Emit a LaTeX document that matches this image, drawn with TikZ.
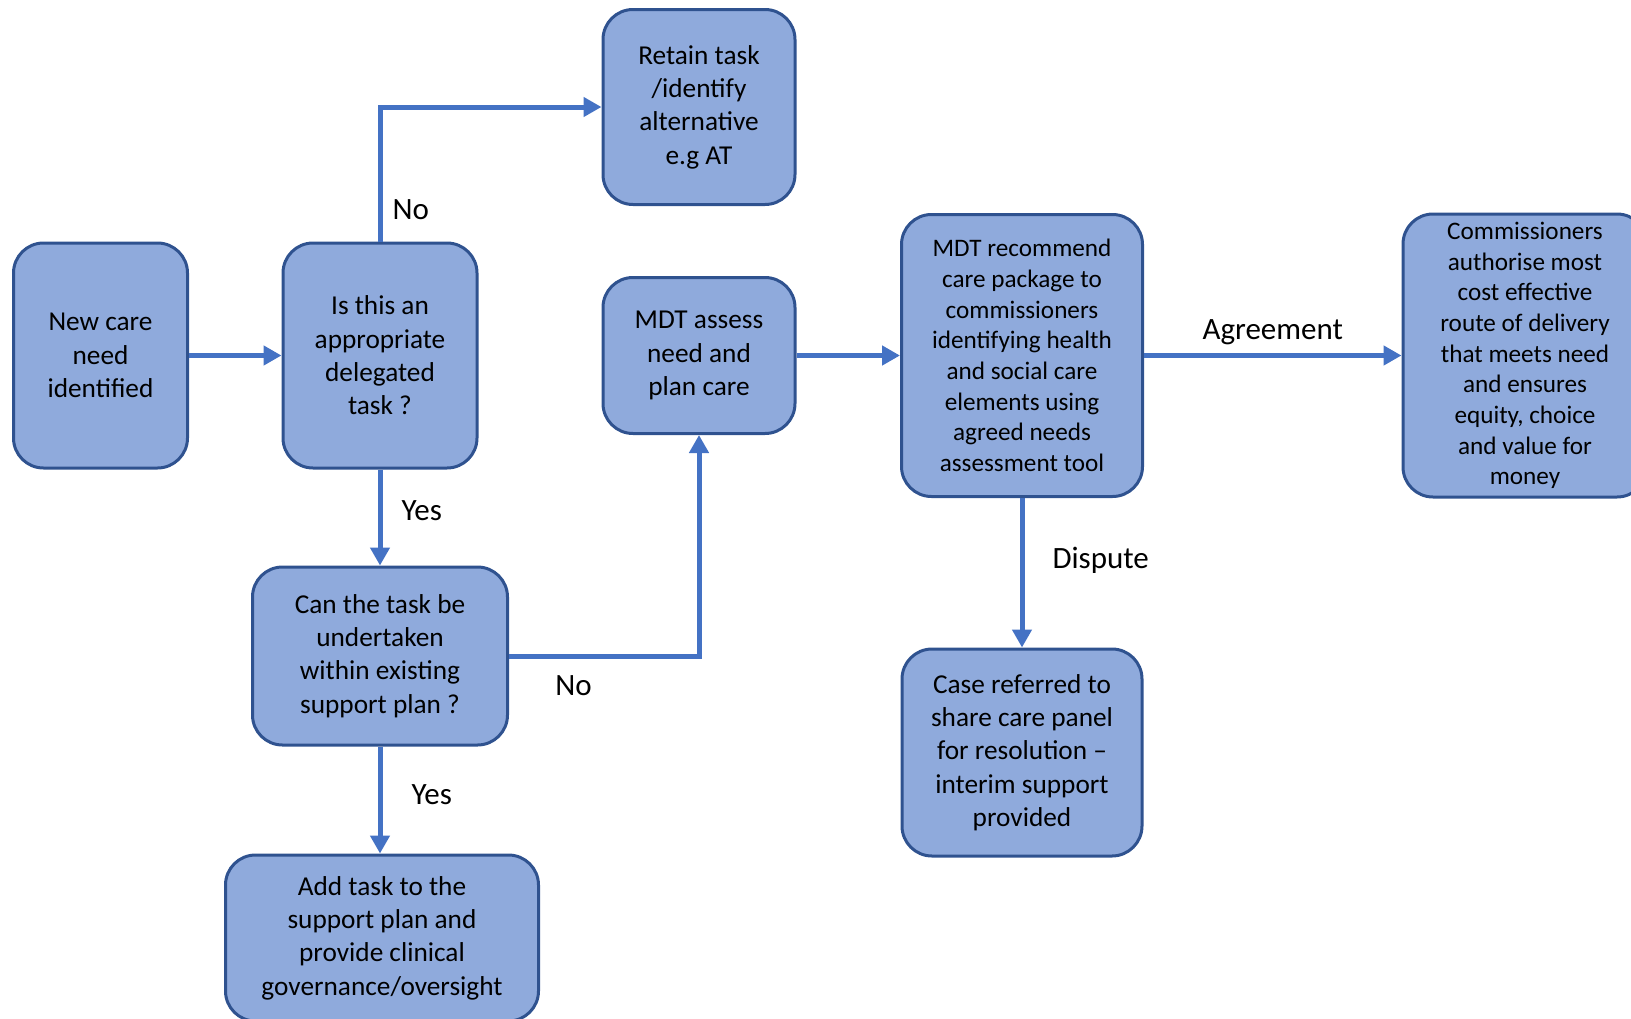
\documentclass[tikz,border=0pt]{standalone}
\usepackage{fontspec}
\setmainfont{Carlito}
\usetikzlibrary{arrows.meta}

\definecolor{boxfill}{HTML}{8FAADC}
\definecolor{boxline}{HTML}{2F528F}
\definecolor{flowline}{HTML}{4472C4}

\tikzset{
  stepbox/.style={draw=boxline, fill=boxfill, line width=3pt, rounded corners=30pt,
    align=center, inner sep=0pt, font=\fontsize{27.3}{33.3}\selectfont},
  smalltext/.style={font=\fontsize{25.2}{30.7}\selectfont},
  flow/.style={draw=flowline, line width=5pt, -{Triangle[length=18pt,width=19pt]}},
  lbl/.style={inner sep=0pt, font=\fontsize{31}{36}\selectfont}
}

\begin{document}
\begin{tikzpicture}[x=1pt, y=-1pt]
  \useasboundingbox (0,0) rectangle (1631,1018);
  \clip (0,0) rectangle (1631,1018);

  % boxes
  \node[stepbox, minimum width=174pt, minimum height=225pt] (need) at (100.5,355.5)
    {New care\\need\\identified};
  \node[stepbox, minimum width=194pt, minimum height=225pt] (delegated) at (380,355.5)
    {Is this an\\appropriate\\delegated\\task ?};
  \node[stepbox, minimum width=192pt, minimum height=195pt] (retain) at (699,107)
    {Retain task\\/identify\\alternative\\e.g AT};
  \node[stepbox, minimum width=192pt, minimum height=156pt] (assess) at (699,355.5)
    {MDT assess\\need and\\plan care};
  \node[stepbox, minimum width=255pt, minimum height=178pt] (existing) at (380,656)
    {Can the task be\\undertaken\\within existing\\support plan ?};
  \node[stepbox, minimum width=313pt, minimum height=166pt] (addtask) at (382,938)
    {Add task to the\\support plan and\\provide clinical\\governance/oversight};
  \node[stepbox, smalltext, minimum width=241pt, minimum height=282pt] (recommend) at (1022,355.5)
    {MDT recommend\\care package to\\commissioners\\identifying health\\and social care\\elements using\\agreed needs\\assessment tool};
  \node[stepbox, smalltext, minimum width=244pt, minimum height=283pt] (authorise) at (1525,355.5)
    {Commissioners\\authorise most\\cost effective\\route of delivery\\that meets need\\and ensures\\equity, choice\\and value for\\money};
  \node[stepbox, minimum width=240pt, minimum height=207pt] (panel) at (1022,752.5)
    {Case referred to\\share care panel\\for resolution --\\interim support\\provided};

  % connectors
  \draw[flow] (need) -- (delegated);
  \draw[flow] (delegated.north) |- node[lbl, pos=0.12, anchor=west, xshift=10pt] {No} (retain.west);
  \draw[flow] (delegated.south) -- node[lbl, pos=0.43, anchor=west, xshift=19pt] {Yes} (existing.north);
  \draw[flow] (existing.east) -| node[lbl, pos=0.17, anchor=north, yshift=-17pt] {No} (assess.south);
  \draw[flow] (existing.south) -- node[lbl, pos=0.45, anchor=west, xshift=29pt] {Yes} (existing.south |- addtask.north);
  \draw[flow] (assess) -- (recommend);
  \draw[flow] (recommend) -- node[lbl, anchor=base, yshift=16.5pt] {Agreement} (authorise);
  \draw[flow] (recommend.south) -- node[lbl, pos=0.42, anchor=west, xshift=28pt] {Dispute} (panel.north);
\end{tikzpicture}
\end{document}
